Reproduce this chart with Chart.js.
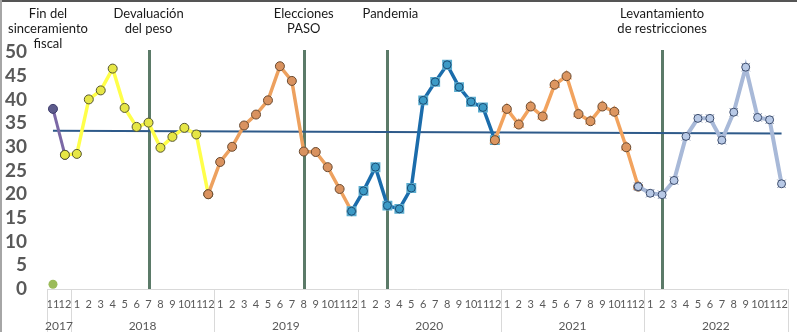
<!DOCTYPE html>
<html>
<head>
<meta charset="utf-8">
<style>
  html, body { margin: 0; padding: 0; background: #fff; }
  canvas { display: block; }
</style>
<script src="https://cdn.jsdelivr.net/npm/chart.js@4.4.1/dist/chart.umd.min.js"></script>
</head>
<body>
<canvas id="indice" width="797" height="332"></canvas>
<script>
// month ticks, Nov 2017 .. Dec 2022
const meses = ['11','12',
  '1','2','3','4','5','6','7','8','9','10','11','12',
  '1','2','3','4','5','6','7','8','9','10','11','12',
  '1','2','3','4','5','6','7','8','9','10','11','12',
  '1','2','3','4','5','6','7','8','9','10','11','12',
  '1','2','3','4','5','6','7','8','9','10','11','12'];
const anios = ['2017','2018','2019','2020','2021','2022'];
const anioDesde = [0, 2, 14, 26, 38, 50];
const anioHasta = [1, 13, 25, 37, 49, 61];

// each period starts at the last month of the previous one
const serie2017 = [38.0, 28.3];
const serie2018 = [28.3, 28.5, 40.0, 41.9, 46.5, 38.2, 34.2, 35.1, 29.8, 32.1, 34.0, 32.6, 20.0];
const serie2019 = [20.0, 26.8, 30.0, 34.5, 36.8, 39.8, 47.0, 43.9, 29.0, 28.9, 25.7, 21.1, 16.4];
const serie2020 = [16.4, 20.7, 25.7, 17.6, 16.9, 21.3, 39.8, 43.7, 47.3, 42.6, 39.5, 38.3, 31.4];
const serie2021 = [31.4, 38.0, 34.7, 38.5, 36.4, 43.1, 44.9, 36.9, 35.4, 38.5, 37.4, 29.9, 21.6];
const serie2022 = [21.6, 20.2, 19.9, 22.9, 32.2, 36.0, 36.0, 31.4, 37.3, 46.8, 36.2, 35.7, 22.2];
const inicio = [0, 1, 13, 25, 37, 49];

const puntoAislado = [1.0];          // single point at Nov 2017
const promedio = [33.4, 32.8];       // trend line, first and last month

const eventos = [
  { texto: ['Fin del', 'sinceramiento', 'fiscal'], mes: 0, linea: false, dx: -5 },
  { texto: ['Devaluación', 'del peso'], mes: 8, linea: true, dx: 0 },
  { texto: ['Elecciones', 'PASO'], mes: 21, linea: true, dx: 0 },
  { texto: ['Pandemia'], mes: 28, linea: true, dx: 3 },
  { texto: ['Levantamiento', 'de restricciones'], mes: 51, linea: true, dx: 0 }
];

const N = meses.length;
function ubicar(valores, desde) {
  const out = new Array(N).fill(null);
  valores.forEach((v, i) => { out[desde + i] = v; });
  return out;
}

function linea(valores, desde, color, ancho, orden) {
  return {
    data: ubicar(valores, desde), borderColor: color, borderWidth: ancho,
    pointRadius: 0, tension: 0, order: orden, spanGaps: false
  };
}
function marcas(valores, desde, estilo, radio, relleno, borde, bw, orden) {
  return {
    data: ubicar(valores, desde), showLine: false, pointStyle: estilo,
    pointRadius: radio, backgroundColor: relleno, borderColor: borde,
    pointBorderWidth: bw, order: orden
  };
}

const FUENTE = 'Lato, "Open Sans", sans-serif';

const datasets = [
  // trend line at the bottom
  { data: (() => { const d = new Array(N).fill(null); d[0] = promedio[0]; d[N - 1] = promedio[1]; return d; })(),
    borderColor: '#2e5a8a', borderWidth: 2, pointRadius: 0, spanGaps: true, order: 200 },

  linea(serie2017, inicio[0], '#7b68a6', 3, 190),
  marcas(serie2017, inicio[0], 'circle', 4.5, '#5d5b8c', '#3d3b6c', 1, 189),

  linea(serie2018, inicio[1], '#ffff4a', 3.5, 180),
  marcas(serie2018, inicio[1], 'circle', 4.5, '#e6e645', '#55552e', 1, 179),

  linea(serie2019, inicio[2], '#eda15f', 3.5, 170),
  marcas(serie2019, inicio[2], 'circle', 4.5, '#d9925f', '#6a4a30', 1, 169),

  linea(serie2020, inicio[3], '#1b6cab', 3.5, 160),
  marcas(serie2020, inicio[3], 'rect', 7, '#5aaccf', '#5aaccf', 0, 159),
  marcas(serie2020, inicio[3], 'circle', 4, '#3c9ac6', '#1b4d75', 1, 158),

  linea(serie2021, inicio[4], '#f2a35e', 3.5, 150),
  marcas(serie2021, inicio[4], 'triangle', 6.5, '#f5b07a', '#f5b07a', 0, 149),
  marcas(serie2021, inicio[4], 'circle', 4.5, '#dd9660', '#6a4a30', 1, 148),

  linea(serie2022, inicio[5], '#a8b9d8', 4, 140),
  marcas(serie2022, inicio[5], 'crossRot', 6, 'rgba(0,0,0,0)', '#8a98b4', 1, 139),
  marcas(serie2022, inicio[5], 'circle', 4, '#b8c9e6', '#3c4c6c', 1, 138),

  marcas(puntoAislado, 0, 'circle', 4.5, '#9bbb59', '#9bbb59', 0, 100)
];

// event markers: vertical rules behind the series, captions on top
const eventosPlugin = {
  id: 'eventos',
  beforeDatasetsDraw(chart) {
    const { ctx, chartArea, scales: { x } } = chart;
    ctx.save();
    ctx.strokeStyle = '#5b7a68';
    ctx.lineWidth = 3;
    eventos.forEach(e => {
      if (!e.linea) return;
      const px = Math.round(x.getPixelForValue(e.mes)) + 0.5;
      ctx.beginPath();
      ctx.moveTo(px, chartArea.top - 2);
      ctx.lineTo(px, chartArea.bottom);
      ctx.stroke();
    });
    ctx.restore();
  },
  afterDraw(chart) {
    const { ctx, scales: { x } } = chart;
    ctx.save();
    ctx.fillStyle = '#1a1a1a';
    ctx.font = '13px ' + FUENTE;
    ctx.textAlign = 'center';
    ctx.textBaseline = 'middle';
    eventos.forEach(e => {
      const px = x.getPixelForValue(e.mes) + e.dx;
      e.texto.forEach((t, i) => ctx.fillText(t, px, 14 + i * 15));
    });
    ctx.restore();
  }
};

// year row under the month ticks
const aniosPlugin = {
  id: 'anios',
  afterDraw(chart) {
    const { ctx, chartArea, scales: { x } } = chart;
    const medio = (x.getPixelForValue(1) - x.getPixelForValue(0)) / 2;
    const bottom = chart.height;
    ctx.save();
    ctx.strokeStyle = '#d9d9d9';
    ctx.lineWidth = 1;
    ctx.beginPath();
    const izq = x.getPixelForValue(0) - medio;
    const der = x.getPixelForValue(N - 1) + medio;
    ctx.moveTo(izq, chartArea.bottom + 0.5);
    ctx.lineTo(der, chartArea.bottom + 0.5);
    const bordes = [izq].concat(anioHasta.map(h => x.getPixelForValue(h) + medio));
    bordes.forEach(b => {
      const bx = Math.round(b) + 0.5;
      ctx.moveTo(bx, chartArea.bottom);
      ctx.lineTo(bx, bottom);
    });
    ctx.stroke();

    ctx.fillStyle = '#595959';
    ctx.font = '12px ' + FUENTE;
    ctx.textAlign = 'center';
    ctx.textBaseline = 'middle';
    anios.forEach((a, i) => {
      const c = (x.getPixelForValue(anioDesde[i]) + x.getPixelForValue(anioHasta[i])) / 2;
      ctx.fillText(a, c, 326);
    });

    // frame of the figure
    ctx.fillStyle = '#555';
    ctx.fillRect(0, 0, chart.width, 2);
    ctx.fillStyle = '#a6a6a6';
    ctx.fillRect(0, 0, 2, chart.height);
    ctx.restore();
  }
};

new Chart(document.getElementById('indice').getContext('2d'), {
  type: 'line',
  data: { labels: meses, datasets },
  options: {
    responsive: false,
    animation: false,
    devicePixelRatio: 1,
    layout: { padding: { top: 52, right: 9, bottom: 0, left: 0 } },
    plugins: { legend: { display: false }, tooltip: { enabled: false } },
    scales: {
      x: {
        type: 'category',
        offset: true,
        grid: { display: false, drawTicks: false },
        border: { display: false },
        ticks: {
          autoSkip: false, maxRotation: 0, minRotation: 0, padding: 9,
          color: '#595959', font: { family: FUENTE, size: 11 }
        },
        afterFit(s) { s.height = 43; }
      },
      y: {
        min: 0, max: 50,
        grid: { display: false, drawTicks: false },
        border: { display: false },
        ticks: {
          stepSize: 5, autoSkip: false, padding: 20, color: '#595959',
          font: { family: FUENTE, size: 19, weight: 'bold' }
        },
        afterFit(s) { s.width = 47; }
      }
    }
  },
  plugins: [eventosPlugin, aniosPlugin]
});
</script>
</body>
</html>
